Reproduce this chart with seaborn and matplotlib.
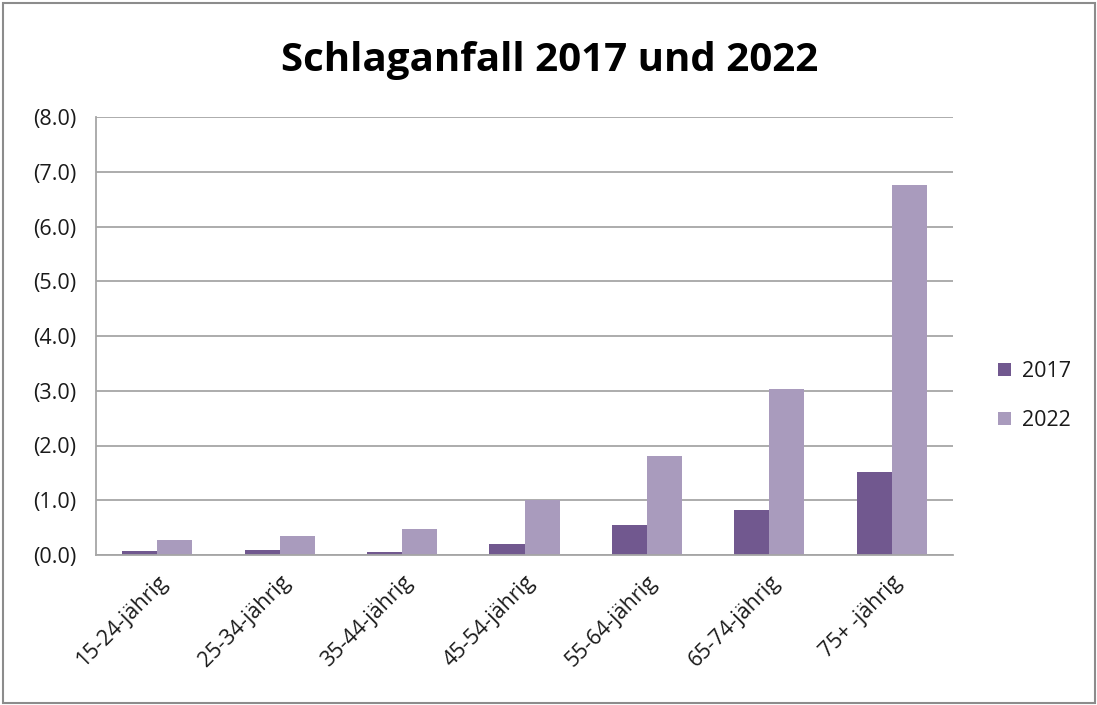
import matplotlib
matplotlib.use("Agg")
import matplotlib.pyplot as plt
import seaborn as sns
import pandas as pd
from matplotlib.patches import Rectangle

categories = ["15-24-jährig", "25-34-jährig", "35-44-jährig", "45-54-jährig",
              "55-64-jährig", "65-74-jährig", "75+ -jährig"]
values_2017 = [0.08, 0.10, 0.06, 0.20, 0.55, 0.83, 1.51]
values_2022 = [0.27, 0.34, 0.48, 1.01, 1.81, 3.03, 6.75]
series = ["2017", "2022"]
colors = ["#71588F", "#A99BBD"]
yticks = [0, 1, 2, 3, 4, 5, 6, 7, 8]

df = pd.DataFrame({
    "Kategorie": categories * 2,
    "Jahr": [series[0]] * len(categories) + [series[1]] * len(categories),
    "Wert": values_2017 + values_2022,
})

sns.set_theme(style="white")
plt.rcParams["font.family"] = ["Open Sans", "DejaVu Sans"]

fig = plt.figure(figsize=(10.97, 7.05), dpi=100)
ax = fig.add_axes([96 / 1097, 150 / 705, 857 / 1097, 438 / 705])

sns.barplot(data=df, x="Kategorie", y="Wert", hue="Jahr", palette=colors,
            width=0.572, gap=0, saturation=1, ax=ax, legend=True,
            edgecolor="none", linewidth=0)

ax.set_ylim(0, 8)
ax.set_xlim(-0.5, len(categories) - 0.5)
ax.set_yticks(yticks)
ax.set_yticklabels([f"({v:.1f})" for v in yticks], fontsize=15.5, color="#1a1a1a")
ax.set_xticks(range(len(categories)))
ax.set_xticklabels(categories, rotation=45, ha="right", rotation_mode="anchor",
                   fontsize=15.5, color="#1a1a1a")
ax.tick_params(axis="y", length=0, pad=14)
ax.tick_params(axis="x", length=0, pad=12)
ax.set_xlabel("")
ax.set_ylabel("")
ax.yaxis.grid(True, color="#A6A6A6", linewidth=1.3)
ax.set_axisbelow(True)
for side in ["top", "right"]:
    ax.spines[side].set_visible(False)
for side in ["left", "bottom"]:
    ax.spines[side].set_color("#A6A6A6")
    ax.spines[side].set_linewidth(1.3)

leg = ax.legend(loc="center left", bbox_to_anchor=(1.03, 0.363), frameon=False,
                fontsize=15.5, handlelength=0.6, handleheight=0.6,
                labelspacing=1.3, handletextpad=0.5)
for t in leg.get_texts():
    t.set_color("#1a1a1a")

fig.text(550 / 1097, 1 - 60 / 705, "Schlaganfall 2017 und 2022",
         ha="center", va="center", fontsize=29, fontweight="bold", color="black")

fig.patches.append(Rectangle((3 / 1097, 2 / 705), 1092 / 1097, 700 / 705,
                             transform=fig.transFigure, fill=False,
                             edgecolor="#8C8C8C", linewidth=1.5))

fig.savefig("out.png", dpi=100, facecolor="white")
